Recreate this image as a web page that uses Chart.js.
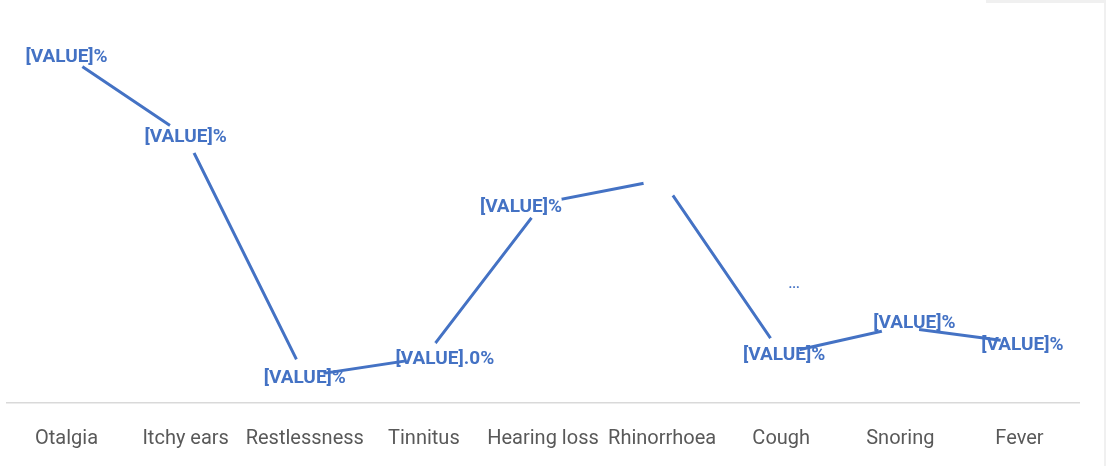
<!DOCTYPE html>
<html>
<head>
<meta charset="utf-8">
<script src="https://cdn.jsdelivr.net/npm/chart.js@4"></script>
<style>
  html, body { margin: 0; padding: 0; background: #fff; }
  #wrap { position: relative; width: 1106px; height: 466px; }
  #edge-top { position: absolute; left: 986px; top: 0; width: 120px; height: 3px; background: #f0f0f0; }
  #edge-right { position: absolute; left: 1104px; top: 0; width: 2px; height: 466px; background: #f0f0f0; }
</style>
</head>
<body>
<div id="wrap">
  <canvas id="myChart" width="1106" height="466"></canvas>
  <div id="edge-top"></div>
  <div id="edge-right"></div>
</div>
<script>
const symptoms = ["Otalgia", "Itchy ears", "Restlessness", "Tinnitus", "Hearing loss", "Rhinorrhoea", "Cough", "Snoring", "Fever"];
const percentages = [63.4, 48.8, 4.9, 8.2, 36.6, 40.8, 9.0, 13.9, 11.0];
const labelTexts = ["[VALUE]%", "[VALUE]%", "[VALUE]%", "[VALUE].0%", "[VALUE]%", "", "[VALUE]%", "[VALUE]%", "[VALUE]%"];

const blue = "#4472C4";
const ctx = document.getElementById("myChart").getContext("2d");

// draws the placeholder data labels on top of the line
const valueLabels = {
  id: "valueLabels",
  afterDatasetsDraw(chart, args, opts) {
    const meta = chart.getDatasetMeta(0);
    const c = chart.ctx;
    c.save();
    c.fillStyle = blue;
    c.textAlign = "center";
    c.textBaseline = "middle";
    c.font = "bold 19px Roboto, sans-serif";
    meta.data.forEach((pt, i) => {
      const s = opts.shift[i] || [0, 0];
      if (labelTexts[i]) c.fillText(labelTexts[i], pt.x + s[0], pt.y + s[1]);
    });
    // truncated label fragment above Cough
    const cough = meta.data[6];
    c.font = "bold 13px Roboto, sans-serif";
    c.fillText("...", cough.x + 13, cough.y - 69);
    c.restore();
  },
};

const myChart = new Chart(ctx, {
  type: "line",
  data: {
    labels: symptoms,
    datasets: [
      {
        data: percentages,
        borderColor: blue,
        borderWidth: 3,
        pointRadius: 19,
        pointHoverRadius: 19,
        pointBorderWidth: 0,
        pointBackgroundColor: "#ffffff",
        pointBorderColor: "#ffffff",
        tension: 0,
        clip: false,
      },
    ],
  },
  plugins: [valueLabels],
  options: {
    responsive: false,
    animation: false,
    events: [],
    layout: { autoPadding: false, padding: { top: 20, left: 7, right: 27, bottom: 17 } },
    plugins: {
      legend: { display: false },
      tooltip: { enabled: false },
      valueLabels: {
        shift: [[0, 1], [0, 1], [0, 2], [21, 1], [-22, 5], [0, 0], [3, 1], [14, -4], [3, 2]],
      },
    },
    scales: {
      x: {
        offset: true,
        grid: { display: false, drawTicks: false },
        border: { display: true, color: "#D9D9D9", width: 1.5 },
        afterFit: (scale) => {
          scale.height = 46;
        },
        ticks: {
          color: "#595959",
          padding: 0,
          maxRotation: 0,
          autoSkip: false,
          font: { family: "Roboto, sans-serif", size: 20, lineHeight: 3.6 },
        },
      },
      y: {
        display: false,
        min: 0,
        max: 70,
      },
    },
  },
});
</script>
</body>
</html>
